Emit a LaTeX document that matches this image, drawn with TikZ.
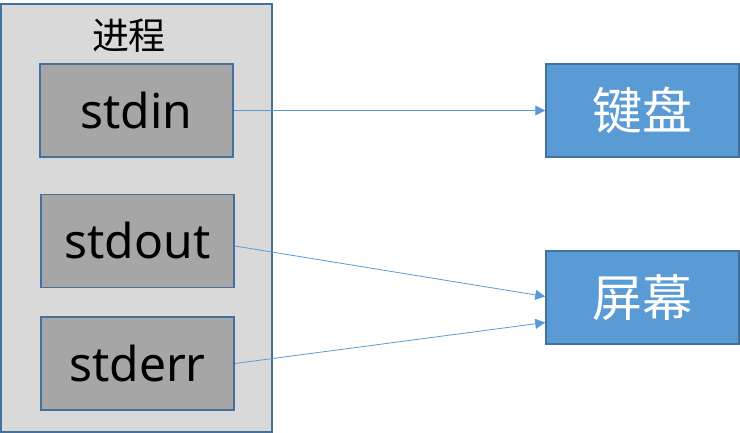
\documentclass[tikz,border=0pt]{standalone}
\usepackage{fontspec}
\setmainfont{Noto Sans}
\newfontfamily\cjk{Noto Sans CJK SC}
\usetikzlibrary{calc,arrows.meta}
\definecolor{edgeblue}{HTML}{41719C}
\definecolor{fillblue}{HTML}{5B9BD5}
\definecolor{procgray}{HTML}{D9D9D9}
\definecolor{streamgray}{HTML}{A6A6A6}
\begin{document}
\begin{tikzpicture}[x=1pt,y=-1pt,
  procbox/.style={draw=edgeblue,line width=1.5pt,fill=procgray,inner sep=0pt},
  streambox/.style={draw=edgeblue,line width=1.5pt,fill=streamgray,minimum width=193pt,minimum height=93pt,inner sep=0pt,font=\fontsize{48}{52}\selectfont},
  devbox/.style={draw=edgeblue,line width=1.5pt,fill=fillblue,text=white,minimum width=193pt,minimum height=93pt,inner sep=0pt,font=\cjk\fontsize{50}{54}\selectfont},
  link/.style={draw=fillblue,line width=0.8pt,-{Triangle[length=10pt,width=10pt]}}]
\useasboundingbox (0,0) rectangle (740,433);
\node[procbox,minimum width=271pt,minimum height=428pt] (proc) at (136.5,218) {};
\node[font=\cjk\fontsize{37}{40}\selectfont] (proclabel) at (129,36) {进程};
\node[streambox] (stdin) at (136.5,110.5) {stdin};
\node[streambox] (stdout) at (137.5,241) {stdout};
\node[streambox] (stderr) at (137.5,363.5) {stderr};
\node[devbox] (kb) at (642.5,110.5) {键盘};
\node[devbox] (scr) at (642.5,297.5) {屏幕};
\draw[link] (stdin.east) -- (kb.west);
\draw[link] ($(stdout.east)+(0,5)$) -- ($(scr.west)+(0,-1)$);
\draw[link] (stderr.east) -- ($(scr.west)+(0,25)$);
\end{tikzpicture}
\end{document}
